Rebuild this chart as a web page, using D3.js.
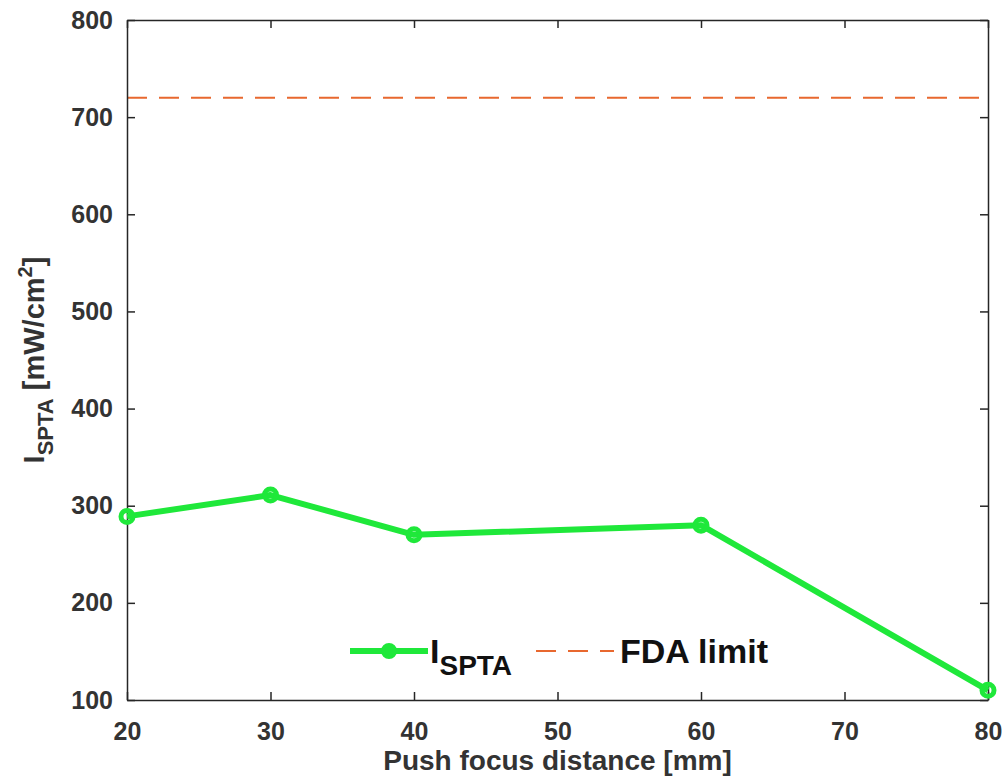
<!DOCTYPE html>
<html>
<head>
<meta charset="utf-8">
<script src="https://cdn.jsdelivr.net/npm/d3@7"></script>
<style>
  body { margin: 0; background: #fff; }
  text { font-family: "Liberation Sans", Arial, sans-serif; font-weight: bold; }
</style>
</head>
<body>
<div id="chart"></div>
<script>
const distances = [20, 30, 40, 60, 80];
const ispta = [289, 311, 270, 280, 110];
const fdaLimit = [720];
const xTicks = [20, 30, 40, 50, 60, 70, 80];
const yTicks = [100, 200, 300, 400, 500, 600, 700, 800];

const lineColor = '#1fe83a';
const fdaColor = '#e8682f';
const axisColor = '#333333';

const width = 1007, height = 780;
const margin = {left: 127, right: 19, top: 20, bottom: 80};

const svg = d3.select('#chart').append('svg')
  .attr('width', width)
  .attr('height', height);

const x = d3.scaleLinear().domain([20, 80]).range([margin.left, width - margin.right]);
const y = d3.scaleLinear().domain([100, 800]).range([height - margin.bottom, margin.top]);

// fda limit line
svg.append('line')
  .attr('x1', x(20)).attr('x2', x(80))
  .attr('y1', y(fdaLimit[0])).attr('y2', y(fdaLimit[0]))
  .attr('stroke', fdaColor)
  .attr('stroke-width', 2)
  .attr('stroke-dasharray', '20,12');

// axes
svg.append('g')
  .attr('transform', `translate(0,${y(100)})`)
  .call(d3.axisBottom(x).tickValues(xTicks).tickSizeInner(-8).tickSizeOuter(0).tickPadding(22));
svg.append('g')
  .attr('transform', `translate(${x(20)},0)`)
  .call(d3.axisLeft(y).tickValues(yTicks).tickSizeInner(-8).tickSizeOuter(0).tickPadding(14));
// mirrored ticks on top/right
svg.append('g')
  .attr('transform', `translate(0,${y(800)})`)
  .call(d3.axisTop(x).tickValues(xTicks).tickSizeInner(-8).tickSizeOuter(0).tickFormat(''));
svg.append('g')
  .attr('transform', `translate(${x(80)},0)`)
  .call(d3.axisRight(y).tickValues(yTicks).tickSizeInner(-8).tickSizeOuter(0).tickFormat(''));

svg.selectAll('.domain').attr('stroke', '#262626').attr('stroke-width', 1.5);
svg.selectAll('.tick line').attr('stroke', '#262626').attr('stroke-width', 1.5);
svg.selectAll('.tick text')
  .attr('fill', axisColor)
  .style('font-size', '25px')
  .style('font-weight', 'bold');

// data line
const line = d3.line().x((d, i) => x(distances[i])).y(d => y(d));
svg.append('path')
  .datum(ispta)
  .attr('d', line)
  .attr('fill', 'none')
  .attr('stroke', lineColor)
  .attr('stroke-width', 6)
  .attr('stroke-linejoin', 'round');

svg.selectAll('.marker')
  .data(ispta)
  .join('circle')
  .attr('class', 'marker')
  .attr('cx', (d, i) => x(distances[i]))
  .attr('cy', d => y(d))
  .attr('r', 6)
  .attr('fill', 'none')
  .attr('stroke', lineColor)
  .attr('stroke-width', 5);

// legend
const legend = svg.append('g').attr('transform', 'translate(350,651)');
legend.append('line')
  .attr('x1', 0).attr('x2', 78).attr('y1', 0).attr('y2', 0)
  .attr('stroke', lineColor).attr('stroke-width', 6);
legend.append('circle')
  .attr('cx', 39).attr('cy', 0).attr('r', 6)
  .attr('fill', lineColor).attr('stroke', lineColor).attr('stroke-width', 4);
const lt = legend.append('text')
  .attr('x', 80).attr('y', 12)
  .attr('fill', '#111')
  .style('font-size', '34px');
lt.append('tspan').text('I');
lt.append('tspan').attr('dy', 12).style('font-size', '28px').text('SPTA');

legend.append('line')
  .attr('x1', 186).attr('x2', 264).attr('y1', 0).attr('y2', 0)
  .attr('stroke', fdaColor).attr('stroke-width', 2)
  .attr('stroke-dasharray', '20,12');
legend.append('text')
  .attr('x', 270).attr('y', 12)
  .attr('fill', '#111')
  .style('font-size', '34px')
  .text('FDA limit');

// axis labels
svg.append('text')
  .attr('x', (x(20) + x(80)) / 2)
  .attr('y', 770)
  .attr('text-anchor', 'middle')
  .attr('fill', axisColor)
  .style('font-size', '28px')
  .text('Push focus distance [mm]');

const yl = svg.append('text')
  .attr('transform', `translate(44,${(y(100) + y(800)) / 2}) rotate(-90)`)
  .attr('text-anchor', 'middle')
  .attr('fill', axisColor)
  .style('font-size', '29px');
yl.append('tspan').text('I');
yl.append('tspan').attr('dy', 9).style('font-size', '22px').text('SPTA');
yl.append('tspan').attr('dy', -9).text(' [mW/cm');
yl.append('tspan').attr('dy', -12).style('font-size', '20px').text('2');
yl.append('tspan').attr('dy', 12).text(']');
</script>
</body>
</html>
